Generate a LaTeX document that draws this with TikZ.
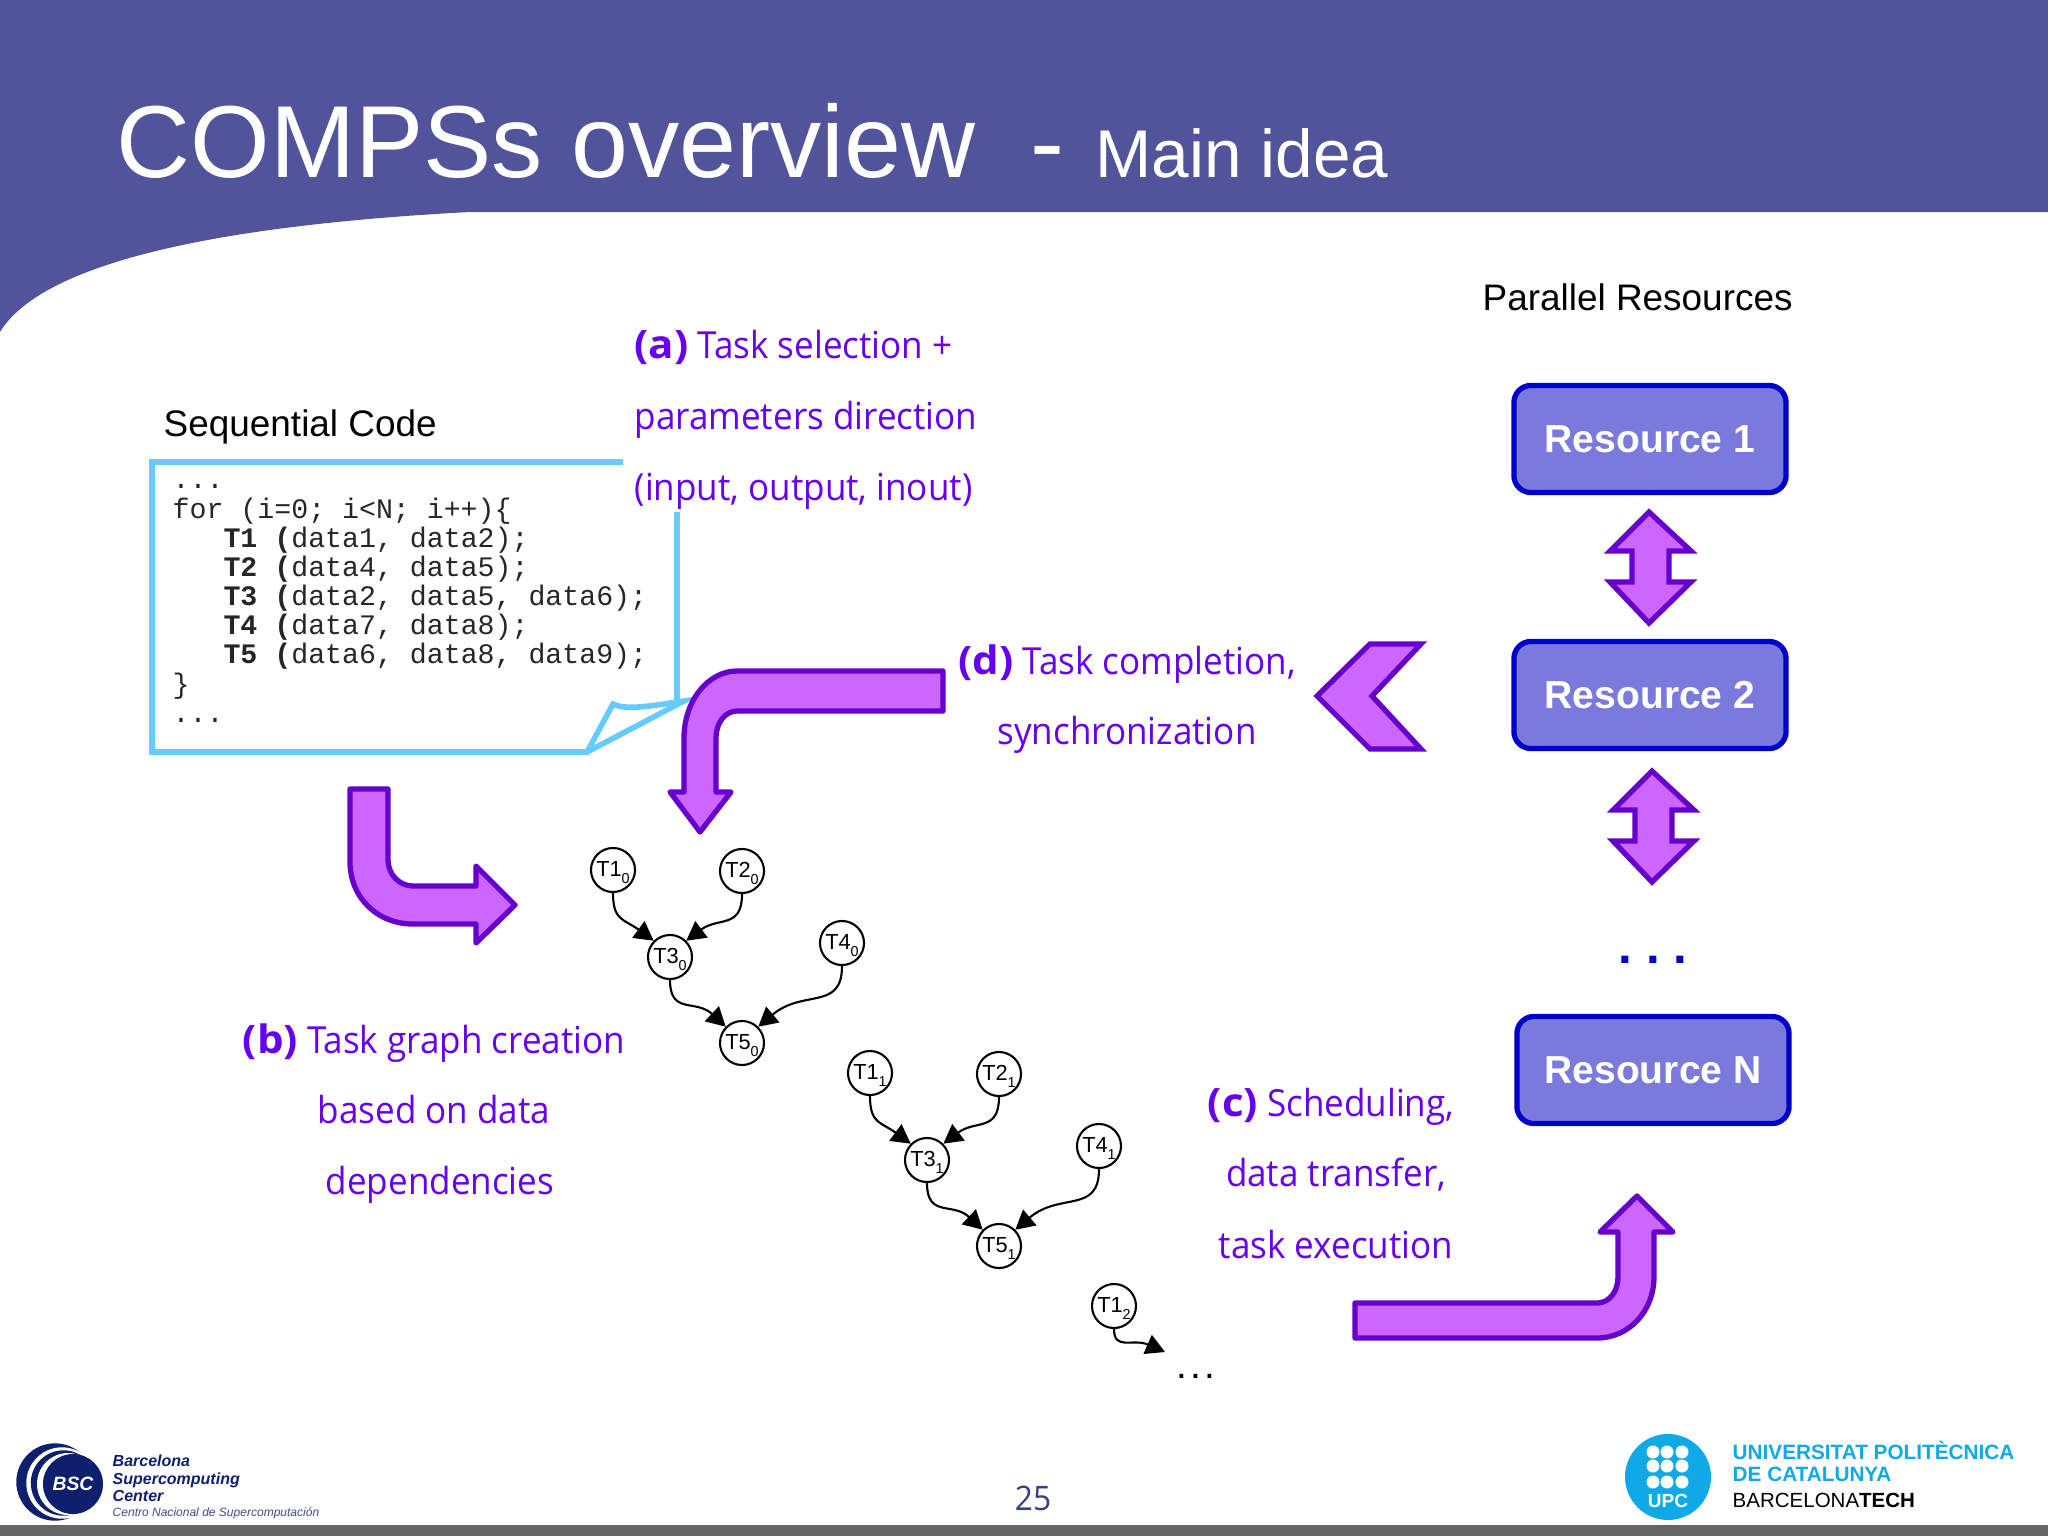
\documentclass[tikz,border=0pt]{standalone}
\usepackage{fontspec}
\setmainfont{Liberation Sans}
\newfontfamily\slidefont[FakeStretch=0.94]{Open Sans}
\newfontfamily\codefont{Liberation Mono}
\usetikzlibrary{arrows.meta}

\definecolor{headerblue}{HTML}{52549B}
\definecolor{notecyan}{HTML}{66CCFF}
\definecolor{boxfill}{HTML}{7A7ADC}
\definecolor{boxline}{HTML}{0000CC}
\definecolor{arrowfill}{HTML}{CC66FF}
\definecolor{arrowline}{HTML}{6600CC}
\definecolor{slidetext}{HTML}{6600EE}
\definecolor{bscblue}{HTML}{0E1F6E}
\definecolor{upcblue}{HTML}{0FA9E8}

\newcommand{\tasklabel}[2]{T#1\raisebox{-2.2pt}[\height][0.8pt]{\fontsize{4.1}{4}\selectfont #2}}
\newcommand{\parttag}[1]{\scalebox{1.2}[1.05]{\textbf{#1}}}

\tikzset{
	tasknode/.style={draw, circle, line width=0.6pt, minimum size=0.44cm, inner sep=0pt, font=\fontsize{6.2}{6}\selectfont},
	taskedge/.style={->, >={Triangle[length=5.4pt,width=5.8pt]}, line width=0.6pt},
	resource/.style={draw=boxline, fill=boxfill, line width=1.5pt, rounded corners=0.17cm, minimum width=2.72cm, minimum height=1.07cm, text=white, font=\fontsize{11.1}{13}\selectfont\bfseries},
	bigarrow/.style={draw=arrowline, fill=arrowfill, line width=1.5pt, line join=round},
	sharparrow/.style={draw=arrowline, fill=arrowfill, line width=1.5pt, line join=miter},
	purpletext/.style={anchor=base, inner sep=0pt, text=slidetext, font=\slidefont\fontsize{10.6}{13}\selectfont},
	blacktext/.style={anchor=base west, inner sep=0pt, font=\fontsize{10.5}{13}\selectfont},
	logotext/.style={anchor=base west, inner sep=0pt}
}

\begin{document}
\begin{tikzpicture}[x=0.01cm, y=-0.01cm]
	\useasboundingbox (0,0) rectangle (2048,1536);

	% header and footer
	\fill[headerblue] (0,0) -- (2048,0) -- (2048,212) -- (470,212) .. controls (280,222) and (50,250) .. (0,332) -- cycle;
	\fill[black!60] (0,1525) rectangle (2048,1536);
	\node[anchor=base west, inner sep=0pt, text=white, font=\fontsize{29.1}{32}\selectfont] (title) at (116,177) {COMPSs overview};
	\node[anchor=base west, inner sep=0pt, text=white, font=\fontsize{29}{32}\selectfont] (dash) at (1030,177) {-};
	\node[anchor=base west, inner sep=0pt, text=white, font=\fontsize{19.2}{22}\selectfont] (subtitle) at (1095,177) {Main idea};

	% sequential code
	\node[blacktext] (seqlabel) at (163,436) {Sequential Code};
	\draw[notecyan, line width=1.6pt] (623,462) -- (152,462) -- (152,752) -- (587,752) -- (613,704) .. controls (625,710) and (645,707) .. (684,701) -- (587,752);
	\draw[notecyan, line width=1.6pt] (677,512) -- (677,702);
	\node[anchor=north west, inner sep=0pt, align=left, text=black!85, font=\codefont\fontsize{8.03}{8.3}\selectfont] (code) at (172,484) {...\\
		for (i=0; i<N; i++)\{\\
		~~~\textbf{T1 (}data1, data2);\\
		~~~\textbf{T2 (}data4, data5);\\
		~~~\textbf{T3 (}data2, data5, data6);\\
		~~~\textbf{T4 (}data7, data8);\\
		~~~\textbf{T5 (}data6, data8, data9);\\
		\}\\
		...};

	% purple labels
	\node[purpletext, anchor=base west] (a1) at (634,358) {\parttag{(a)} Task selection +};
	\node[purpletext, anchor=base west] (a2) at (634,429) {parameters direction};
	\node[purpletext, anchor=base west] (a3) at (634,500) {(input, output, inout)};
	\node[purpletext] (b1) at (434,1053) {\parttag{(b)} Task graph creation};
	\node[purpletext] (b2) at (434,1123) {based on data};
	\node[purpletext] (b3) at (440,1194) {dependencies};
	\node[purpletext] (c1) at (1331,1116) {\parttag{(c)} Scheduling,};
	\node[purpletext] (c2) at (1336,1186) {data transfer,};
	\node[purpletext] (c3) at (1336,1258) {task execution};
	\node[purpletext] (d1) at (1127,674) {\parttag{(d)} Task completion,};
	\node[purpletext] (d2) at (1127,744) {synchronization};

	% resources
	\node[blacktext] (parlabel) at (1482,310) {Parallel Resources};
	\node[resource] (r1) at (1650,439) {Resource 1};
	\node[resource] (r2) at (1650,695) {Resource 2};
	\node[resource] (rn) at (1653,1070) {Resource N};
	\node[anchor=base, inner sep=0pt, text=boxline, font=\fontsize{14}{16}\selectfont\bfseries\frenchspacing] (rdots) at (1653,963) {. . .};
	\draw[sharparrow] (1649,512) -- (1610,551) -- (1632,551) -- (1632,582) -- (1610,582) -- (1649,623) -- (1691,582) -- (1669,582) -- (1669,551) -- (1691,551) -- cycle;
	\draw[sharparrow] (1652,771) -- (1613,810) -- (1635,810) -- (1635,841) -- (1613,841) -- (1652,882) -- (1694,841) -- (1672,841) -- (1672,810) -- (1694,810) -- cycle;

	% big arrows
	\draw[sharparrow] (1370,644) -- (1421,644) -- (1372,696) -- (1421,749) -- (1370,749) -- (1317,696) -- cycle;
	\draw[bigarrow] (943,671) -- (737,671) .. controls (708,671) and (684,701) .. (684,738) -- (684,792) -- (670,792) -- (700,832) -- (731,792) -- (716,792) -- (716,738) .. controls (716,723) and (725,711) .. (737,711) -- (943,711) -- cycle;
	\draw[bigarrow] (350,789) -- (388,789) -- (388,860) .. controls (388,874) and (399,886) .. (413,886) -- (476,886) -- (476,866) -- (515,905) -- (476,943) -- (476,924) -- (413,924) .. controls (377,924) and (350,897) .. (350,862) -- cycle;
	\draw[bigarrow] (1355,1303) -- (1597,1303) .. controls (1609,1303) and (1618,1292) .. (1618,1277) -- (1618,1232) -- (1600,1232) -- (1637,1196) -- (1673,1232) -- (1654,1232) -- (1654,1277) .. controls (1654,1311) and (1629,1338) .. (1597,1338) -- (1355,1338) -- cycle;

	% task graph
	\node[tasknode] (t10) at (613,870) {\tasklabel{1}{0}};
	\node[tasknode] (t20) at (742,871) {\tasklabel{2}{0}};
	\node[tasknode] (t30) at (670,957) {\tasklabel{3}{0}};
	\node[tasknode] (t40) at (842,943) {\tasklabel{4}{0}};
	\node[tasknode] (t50) at (742,1043) {\tasklabel{5}{0}};
	\draw[taskedge] (t10.south) .. controls +(0,28) and +(-30,-22) .. (t30.north west);
	\draw[taskedge] (t20.south) .. controls +(0,35) and +(32,-24) .. (t30.north east);
	\draw[taskedge] (t30.south) .. controls +(0,35) and +(-30,-28) .. (t50.north west);
	\draw[taskedge] (t40.south) .. controls +(0,45) and +(45,-38) .. (t50.north east);

	\node[tasknode] (t11) at (870,1073) {\tasklabel{1}{1}};
	\node[tasknode] (t21) at (999,1074) {\tasklabel{2}{1}};
	\node[tasknode] (t31) at (927,1160) {\tasklabel{3}{1}};
	\node[tasknode] (t41) at (1099,1146) {\tasklabel{4}{1}};
	\node[tasknode] (t51) at (999,1246) {\tasklabel{5}{1}};
	\draw[taskedge] (t11.south) .. controls +(0,28) and +(-30,-22) .. (t31.north west);
	\draw[taskedge] (t21.south) .. controls +(0,35) and +(32,-24) .. (t31.north east);
	\draw[taskedge] (t31.south) .. controls +(0,35) and +(-30,-28) .. (t51.north west);
	\draw[taskedge] (t41.south) .. controls +(0,45) and +(45,-38) .. (t51.north east);

	\node[tasknode] (t12) at (1114,1306) {\tasklabel{1}{2}};
	\coordinate (t12end) at (1165,1352);
	\draw[taskedge] (t12.south) .. controls +(0,22) and +(-32,-14) .. (t12end);
	\node[anchor=base, inner sep=0pt, font=\fontsize{11}{13}\selectfont] (tdots) at (1196,1378) {.\kern1pt.\kern1pt.};

	% page number
	\node[anchor=base, inner sep=0pt, text=bscblue!85, font=\slidefont\fontsize{9.6}{11}\selectfont] (page) at (1033,1510) {25};

	% BSC logo
	\fill[bscblue] (55,1482) circle [radius=38.7];
	\fill[white] (62,1483) circle [radius=35.7];
	\fill[bscblue] (63.5,1483) circle [radius=32.7];
	\fill[white] (68,1484) circle [radius=31];
	\fill[bscblue] (73,1484) circle [radius=30];
	\node[inner sep=0pt, text=white, font=\fontsize{5.5}{6}\selectfont\bfseries\itshape] (bsc) at (73,1484) {BSC};
	\node[logotext, text=bscblue, font=\fontsize{4.55}{5}\selectfont\bfseries\itshape] (bsc1) at (112,1466) {Barcelona};
	\node[logotext, text=bscblue, font=\fontsize{4.55}{5}\selectfont\bfseries\itshape] (bsc2) at (112,1484) {Supercomputing};
	\node[logotext, text=bscblue, font=\fontsize{4.55}{5}\selectfont\bfseries\itshape] (bsc3) at (112,1501) {Center};
	\node[logotext, text=bscblue!80, font=\fontsize{3.42}{4}\selectfont\itshape] (bsc4) at (112,1516) {Centro Nacional de Supercomputación};

	% UPC logo
	\fill[upcblue] (1668,1477) circle [radius=43];
	\fill[white] (1653,1452) circle [radius=6.5];
	\fill[white] (1667,1452) circle [radius=6.5];
	\fill[white] (1682,1452) circle [radius=6.5];
	\fill[white] (1653,1466) circle [radius=6.5];
	\fill[white] (1667,1466) circle [radius=6.5];
	\fill[white] (1682,1466) circle [radius=6.5];
	\fill[white] (1653,1482) circle [radius=6.5];
	\fill[white] (1667,1482) circle [radius=6.5];
	\fill[white] (1682,1482) circle [radius=6.5];
	\node[anchor=base, inner sep=0pt, text=white, font=\fontsize{5.4}{6}\selectfont\bfseries] (upc) at (1668,1507) {UPC};
	\node[logotext, text=upcblue, font=\fontsize{5.9}{7}\selectfont\bfseries] (upc1) at (1732,1459) {UNIVERSITAT POLITÈCNICA};
	\node[logotext, text=upcblue, font=\fontsize{5.9}{7}\selectfont\bfseries] (upc2) at (1732,1481) {DE CATALUNYA};
	\node[logotext, font=\fontsize{5.83}{7}\selectfont] (upc3) at (1732,1507) {BARCELONA\textbf{TECH}};
\end{tikzpicture}
\end{document}
